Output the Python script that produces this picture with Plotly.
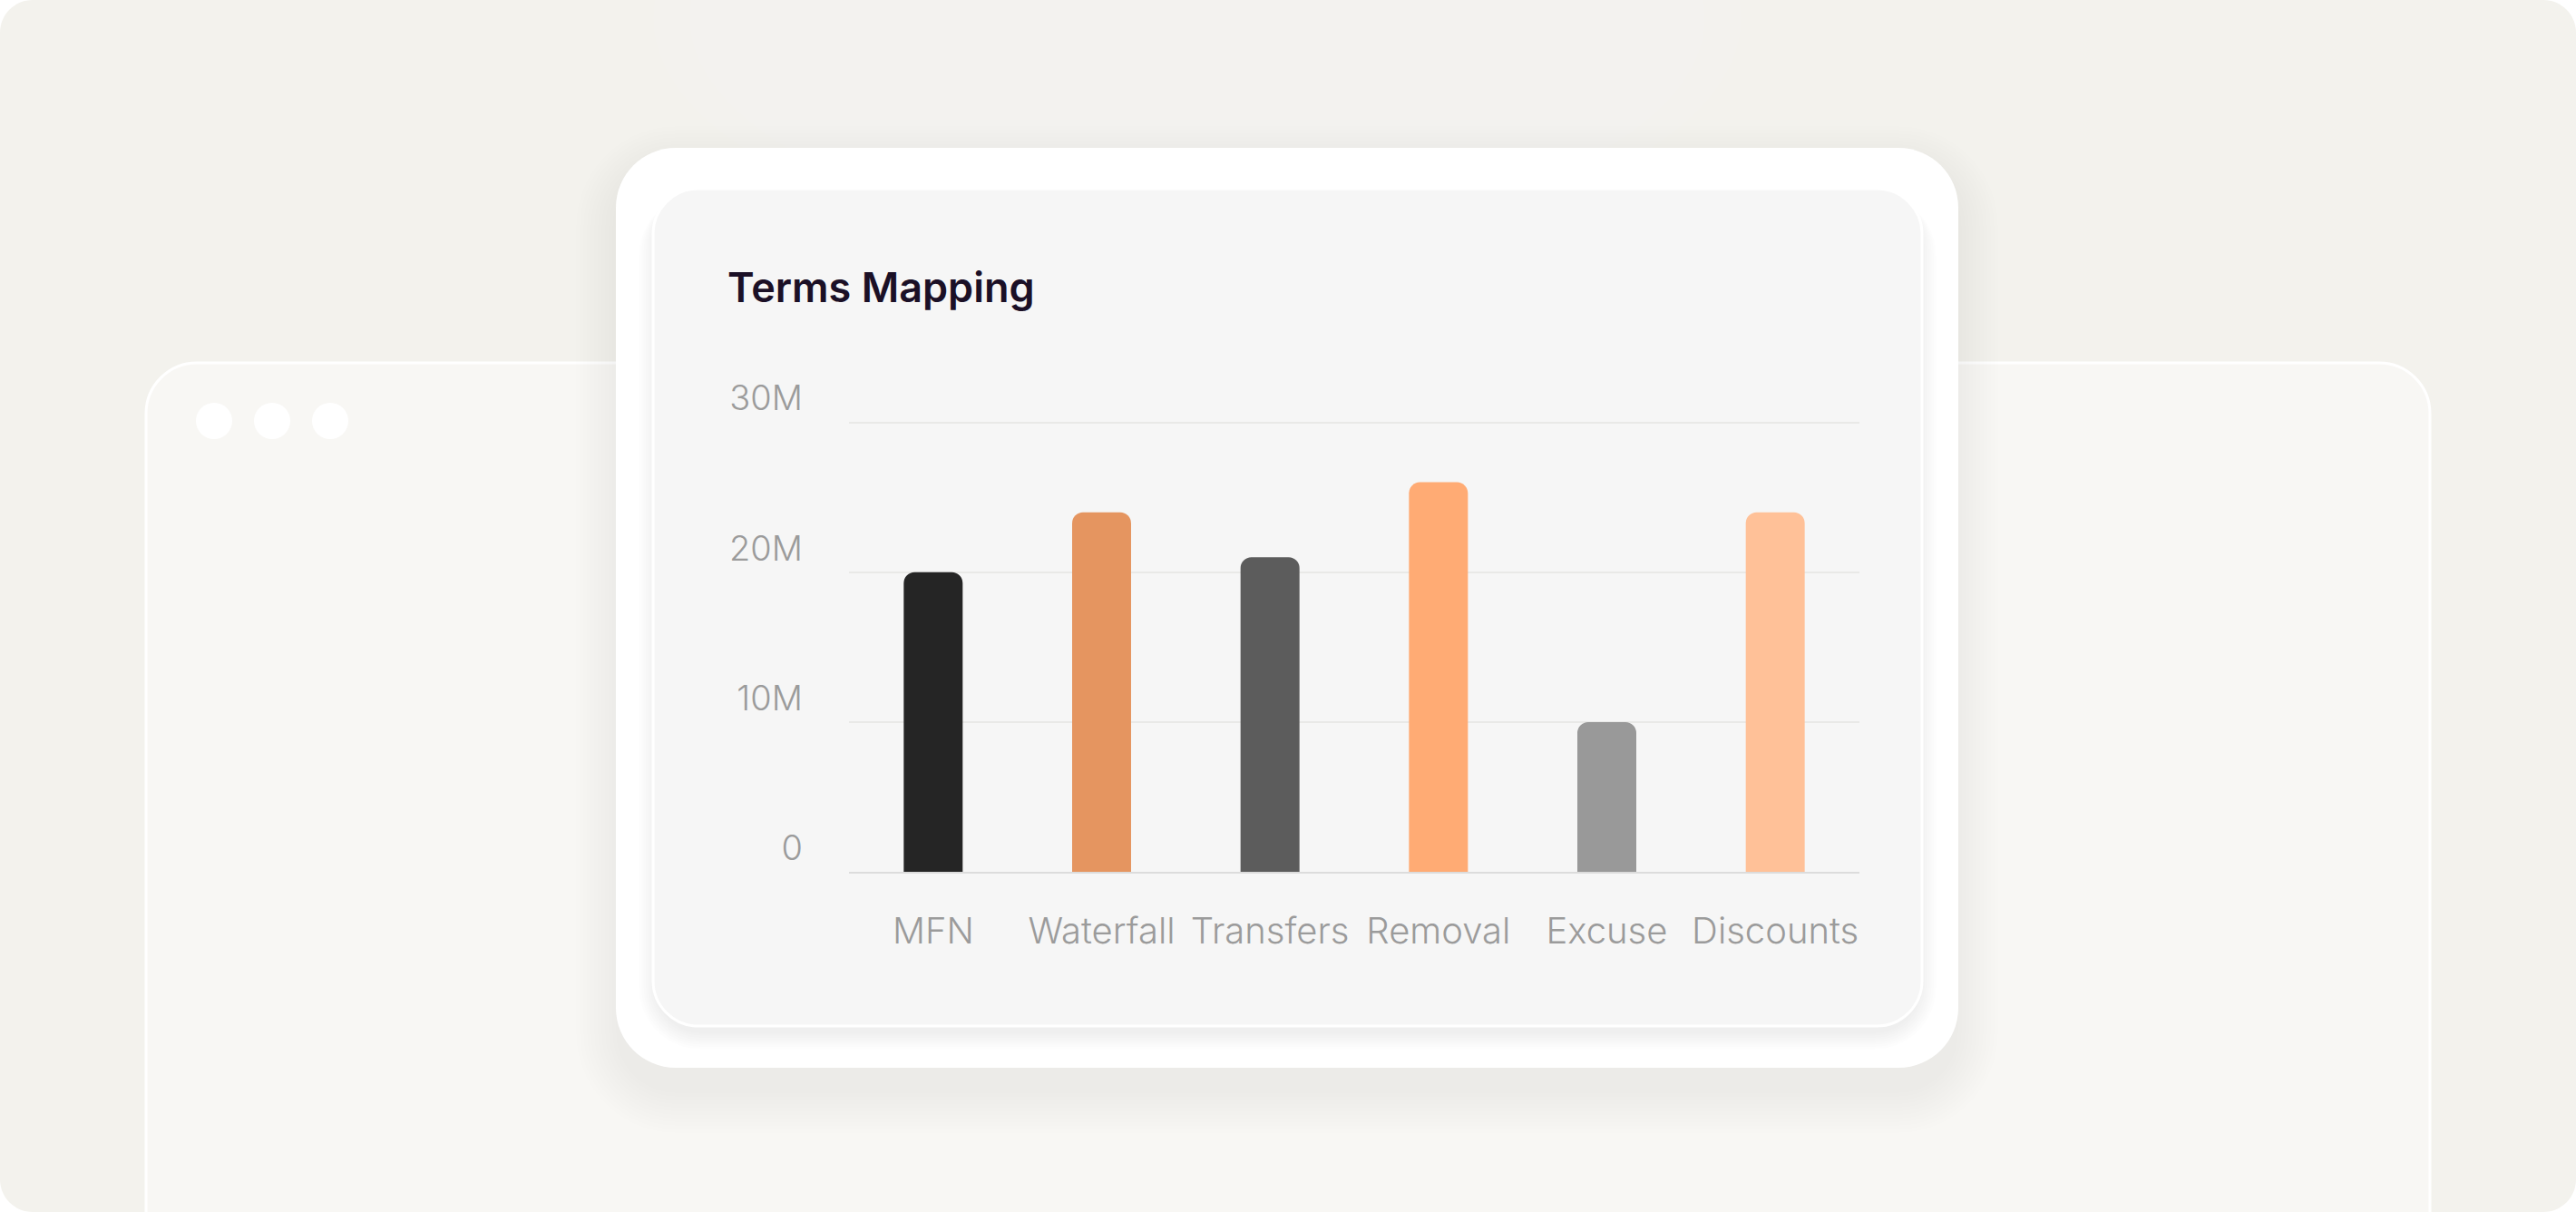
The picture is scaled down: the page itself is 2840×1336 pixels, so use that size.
import plotly.graph_objects as go

# ---- data ----
categories = ["MFN", "Waterfall", "Transfers", "Removal", "Excuse", "Discounts"]
values = [20_000_000, 24_000_000, 21_000_000, 26_000_000, 10_000_000, 24_000_000]
bar_colors = ["#252525", "#e59560", "#5c5c5c", "#ffab74", "#999999", "#ffc198"]
y_tick_vals = [0, 10_000_000, 20_000_000, 30_000_000]
y_tick_text = ["0", "10M", "20M", "30M"]
title_text = "Terms Mapping"

W, H = 2840, 1336


def px(x):
    return x / W


def py(y):
    return 1 - y / H


def rr_path(x0, y0, x1, y1, r):
    k = 0.5523 * r
    pts = [
        f"M{px(x0 + r)},{py(y0)}",
        f"L{px(x1 - r)},{py(y0)}",
        f"C{px(x1 - r + k)},{py(y0)} {px(x1)},{py(y0 + r - k)} {px(x1)},{py(y0 + r)}",
        f"L{px(x1)},{py(y1 - r)}",
        f"C{px(x1)},{py(y1 - r + k)} {px(x1 - r + k)},{py(y1)} {px(x1 - r)},{py(y1)}",
        f"L{px(x0 + r)},{py(y1)}",
        f"C{px(x0 + r - k)},{py(y1)} {px(x0)},{py(y1 - r + k)} {px(x0)},{py(y1 - r)}",
        f"L{px(x0)},{py(y0 + r)}",
        f"C{px(x0)},{py(y0 + r - k)} {px(x0 + r - k)},{py(y0)} {px(x0 + r)},{py(y0)}",
        "Z",
    ]
    return " ".join(pts)


shapes = []


def add_rr(x0, y0, x1, y1, r, fill, line_color=None, line_width=0):
    shapes.append(dict(
        type="path", xref="paper", yref="paper", layer="below",
        path=rr_path(x0, y0, x1, y1, r),
        fillcolor=fill,
        line=dict(color=line_color or "rgba(0,0,0,0)", width=line_width),
    ))


def add_ellipse(cx, cy, rx, ry, fill):
    shapes.append(dict(type="circle", xref="paper", yref="paper", layer="below",
                       x0=px(cx - rx), x1=px(cx + rx), y0=py(cy + ry), y1=py(cy - ry),
                       fillcolor=fill, line=dict(width=0)))


# page background
add_rr(0, 0, W, H, 36, "#f3f2ed")

# soft glow at top centre
for i in range(14):
    f = 1 - i / 14
    add_ellipse(1320, 20, 560 * f + 40, 240 * f + 20, "rgba(255,254,251,0.06)")

# back window
add_rr(161, 400, 2679, 1420, 56, "#f8f7f4", "#ffffff", 3)
for cx in [236, 300, 364]:
    add_ellipse(cx, 464, 20, 20, "#ffffff")

# outer card shadow (soft, mostly below)
for i in range(12):
    g = i * 4
    add_rr(679 - g, 163 + 20 - g, 2159 + g, 1177 + 28 + g, 66 + g, "rgba(40,35,30,0.0055)")

# outer card
add_rr(679, 163, 2159, 1177, 66, "#ffffff")

# inner card shadow (below)
for i in range(8):
    g = i * 2.5
    add_rr(720 - g + 2, 208 + 6, 2119 + g - 2, 1131 + 8 + g, 50 + g, "rgba(0,0,0,0.009)")

# inner card
add_rr(720, 208, 2119, 1131, 50, "#f6f6f6", "#ffffff", 3)

fig = go.Figure()
fig.add_trace(go.Bar(
    x=categories, y=values,
    marker=dict(color=bar_colors, cornerradius=12, line=dict(width=0)),
    hoverinfo="x+y",
))

y_font = dict(family="Inter, Roboto, sans-serif", size=38, color="#9b9b9b", weight=300)
x_font = dict(family="Inter, Roboto, sans-serif", size=40, color="#9b9b9b", weight=300)

# y range slightly above 30M so that the top grid line is drawn
y_top = 30_200_000
px_per_unit = (961.4 - 465.5) / 30_000_000
plot_top_px = 961.4 - y_top * px_per_unit

fig.update_layout(
    width=W, height=H,
    margin=dict(l=0, r=0, t=0, b=0, autoexpand=False),
    paper_bgcolor="#ffffff",
    plot_bgcolor="rgba(0,0,0,0)",
    showlegend=False,
    bargap=0.65,
    font=dict(family="Inter, Roboto, sans-serif", color="#9b9b9b", size=38),
    shapes=shapes,
    xaxis=dict(
        domain=[px(936), px(2050)],
        automargin=False,
        showgrid=False, zeroline=False,
        showline=True, linecolor="#dcdcdc", linewidth=2,
        ticks="", ticklabelstandoff=29,
        tickfont=x_font,
        fixedrange=True,
    ),
    yaxis=dict(
        domain=[py(961.4), py(plot_top_px)],
        automargin=False,
        range=[0, y_top],
        tickvals=y_tick_vals, ticktext=y_tick_text,
        showgrid=True, gridcolor="#e9e9e7", gridwidth=2,
        zeroline=False, showline=False,
        ticks="", ticklabelposition="outside top", ticklabelstandoff=50,
        tickfont=y_font,
        fixedrange=True,
    ),
    annotations=[dict(
        text=title_text, xref="paper", yref="paper",
        x=px(800), y=py(316), xanchor="left", yanchor="middle",
        showarrow=False,
        font=dict(family="Inter, Roboto, sans-serif", size=45, color="#1b1026", weight=600),
    )],
)

fig.write_html(
    "out.html",
    config={"displayModeBar": False},
    post_script="document.body.style.margin='0';document.body.style.overflow='hidden';",
)
